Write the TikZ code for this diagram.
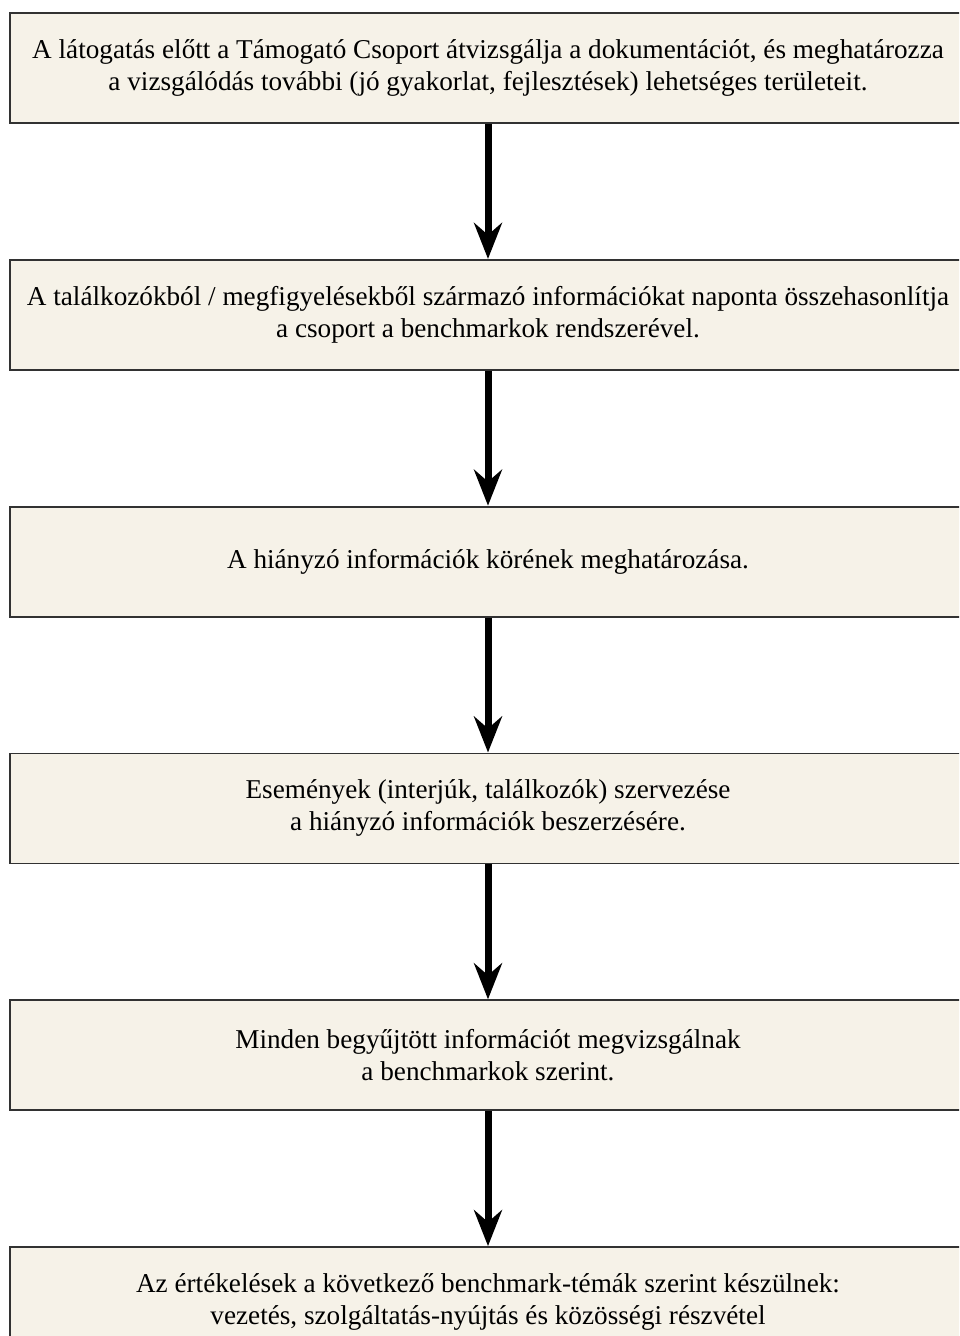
\documentclass[tikz,border=0pt]{standalone}
\usepackage{fontspec}
\setmainfont{Liberation Serif}
\usetikzlibrary{arrows.meta,positioning}
\definecolor{boxcream}{RGB}{246,242,232}
\definecolor{boxline}{RGB}{50,50,50}

\begin{document}
\begin{tikzpicture}[
    x=1pt, y=1pt,
    node distance=135pt,
    stage/.style={rectangle, draw=boxline, line width=1.8pt, fill=boxcream, minimum width=956pt, minimum height=110pt, align=center, font=\fontsize{27.2}{32}\selectfont, inner sep=0pt},
    arrow/.style={line width=7pt, -{Stealth[length=36pt, width=28pt, inset=12pt]}}
]
\clip (0,0) rectangle (959,-1336);
\useasboundingbox (0,0) rectangle (959,-1336);
% Preparation
\node[stage] (prep) at (488,-68) {A látogatás előtt a Támogató Csoport átvizsgálja a dokumentációt, és meghatározza\\a vizsgálódás további (jó gyakorlat, fejlesztések) lehetséges területeit.};
% Daily comparison
\node[stage, below=of prep] (daily) {A találkozókból / megfigyelésekből származó információkat naponta összehasonlítja\\a csoport a benchmarkok rendszerével.};
% Missing information
\node[stage, below=of daily] (missing) {A hiányzó információk körének meghatározása.};
% Events
\node[stage, below=of missing] (events) {Események (interjúk, találkozók) szervezése\\a hiányzó információk beszerzésére.};
% Review
\node[stage, below=of events] (review) {Minden begyűjtött információt megvizsgálnak\\a benchmarkok szerint.};
% Evaluation
\node[stage, below=of review] (evaluation) {Az értékelések a következő benchmark-témák szerint készülnek:\\vezetés, szolgáltatás-nyújtás és közösségi részvétel};
% Arrows
\draw[arrow] (prep) -- (daily);
\draw[arrow] (daily) -- (missing);
\draw[arrow] (missing) -- (events);
\draw[arrow] (events) -- (review);
\draw[arrow] (review) -- (evaluation);
\end{tikzpicture}
\end{document}
